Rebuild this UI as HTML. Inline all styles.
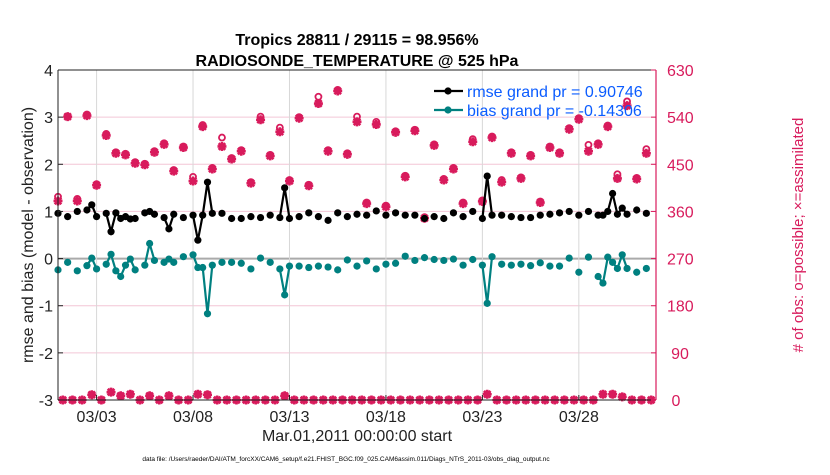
<!DOCTYPE html>
<html><head><meta charset="utf-8"><style>
body{margin:0;background:#fff;}
svg text{font-family:"Liberation Sans",sans-serif;}
</style></head><body>
<svg id="chart" width="830" height="470" xmlns="http://www.w3.org/2000/svg">
<g id="grid"></g><g id="marks"></g><g id="axes"></g>
</svg>
<script>
// rmse/bias series
const times=[0,0.5,1,1.5,1.75,2,2.5,2.75,3,3.25,3.5,3.75,4,4.5,4.75,5,5.5,5.75,6,6.5,7,7.25,7.5,7.75,8,8.5,9,9.5,10,10.5,11,11.5,11.75,12,12.5,13,13.5,14,14.5,15,15.5,16,16.5,17,17.5,18,18.5,19,19.5,20,20.5,21,21.5,22,22.25,22.5,23,23.5,24,24.5,25,25.5,26,26.5,27,27.5,28,28.25,28.5,28.75,29,29.25,29.5,30,30.5];
const rmse=[0.96,0.89,1.00,1.03,1.14,0.89,0.96,0.57,0.97,0.85,0.89,0.84,0.85,0.97,1.00,0.94,0.87,0.63,0.94,0.87,0.92,0.39,0.92,1.62,0.96,0.96,0.85,0.85,0.89,0.87,0.92,0.87,1.50,0.85,0.89,0.97,0.89,0.81,0.97,0.89,0.94,0.92,1.01,0.92,0.97,0.92,0.92,0.85,0.89,0.85,0.97,0.89,1.00,0.85,1.75,0.92,0.92,0.89,0.87,0.87,0.92,0.94,0.97,1.00,0.92,1.00,0.92,0.92,1.00,1.38,0.94,1.07,0.94,1.03,0.96];
const bias=[-0.24,-0.08,-0.26,-0.15,0.01,-0.22,-0.12,0.09,-0.26,-0.38,-0.14,-0.01,-0.24,-0.14,0.32,-0.04,-0.08,-0.01,-0.08,0.04,0.08,-0.19,-0.19,-1.17,-0.14,-0.08,-0.08,-0.10,-0.22,0.01,-0.08,-0.22,-0.77,-0.16,-0.16,-0.19,-0.16,-0.18,-0.24,-0.03,-0.16,-0.05,-0.22,-0.12,-0.10,0.05,-0.04,0.02,-0.02,-0.04,-0.01,-0.14,-0.02,-0.14,-0.95,0.04,-0.12,-0.14,-0.12,-0.15,-0.09,-0.16,-0.16,0.01,-0.29,0.03,-0.38,-0.52,0.03,-0.08,-0.21,0.08,-0.21,-0.29,-0.21];
// obs counts at synoptic 00/12Z times
const countTimes=[0,0.5,1,1.5,2,2.5,3,3.5,4,4.5,5,5.5,6,6.5,7,7.5,8,8.5,9,9.5,10,10.5,11,11.5,12,12.5,13,13.5,14,14.5,15,15.5,16,16.5,17,17.5,18,18.5,19,19.5,20,20.5,21,21.5,22,22.5,23,23.5,24,24.5,25,25.5,26,26.5,27,27.5,28,28.5,29,29.5,30,30.5];
const possible=[388,541,384,545,412,508,473,470,454,451,475,490,439,484,426,525,443,501,462,477,416,541,468,520,420,540,411,579,477,592,471,541,377,531,371,513,428,516,349,488,422,443,377,498,381,503,420,473,425,468,379,484,473,519,538,487,490,524,431,570,424,479];
const assimilated=[380,541,380,543,410,505,471,468,452,449,473,488,437,482,418,522,441,484,460,475,414,535,466,512,418,538,409,566,475,590,469,531,375,526,369,511,426,514,347,486,420,441,375,493,379,501,416,471,423,466,377,482,471,517,536,475,488,522,423,562,422,471];
// obs counts at 06/18Z times
const offTimes=[];for(let k=0;k<62;k++)offTimes.push(0.25+0.5*k);
const offCounts=[0,0,0,10,0,15,8,11,0,8,0,8,0,0,11,10,0,0,0,0,0,0,0,8,0,0,0,0,0,0,0,0,0,0,0,0,0,0,0,0,0,0,0,0,11,0,0,0,0,0,0,0,0,0,0,0,11,11,6,0,0,0];
const yTicks=[-3,-2,-1,0,1,2,3,4];
const rTicks=[0,90,180,270,360,450,540,630];
const xTickDays=[2,7,12,17,22,27];
const xTickLabels=["03/03","03/08","03/13","03/18","03/23","03/28"];

const L=58,R=656,T=70,B=400,PINK="#d81b5c",TEAL="#008080";
const xs=d=>L+(d/31)*(R-L);
const ys=v=>B-(v+3)/7*(B-T);
const yr=n=>B-n/630*(B-T);
const NS="http://www.w3.org/2000/svg";
function mk(parent,tag,attrs,txt){const e=document.createElementNS(NS,tag);for(const k in attrs)e.setAttribute(k,attrs[k]);if(txt!==undefined)e.textContent=txt;document.getElementById(parent).appendChild(e);return e;}

// grid
yTicks.forEach(v=>{const g=mk('grid','line',{x1:L,x2:R,y1:ys(v),y2:ys(v),stroke:v===0?'#aaa':'#f3c6d6','stroke-width':v===0?2:1});

});
xTickDays.forEach(d=>{const g=mk('grid','line',{x1:xs(d),x2:xs(d),y1:T,y2:B,stroke:'#d8d8d8','stroke-width':1});

});

function marker(parent,x,y,kind){
 if(kind==='o'){const c=mk(parent,'circle',{cx:x,cy:y,r:3,fill:'none',stroke:PINK,'stroke-width':1.8});
  
  }
 else{const g=mk(parent,'path',{d:`M${x-4.5},${y}H${x+4.5}M${x},${y-4.5}V${y+4.5}M${x-3.3},${y-3.3}L${x+3.3},${y+3.3}M${x-3.3},${y+3.3}L${x+3.3},${y-3.3}`,stroke:PINK,'stroke-width':2.6,fill:'none'});
  
  
  const c=mk(parent,'circle',{cx:x,cy:y,r:2.6,fill:PINK});
  
  }
}
countTimes.forEach((t,i)=>{marker('marks',xs(t),yr(assimilated[i]),'*');marker('marks',xs(t),yr(possible[i]),'o');});
offTimes.forEach((t,i)=>{if(xs(t)<=R){marker('marks',xs(t),yr(offCounts[i]),'*');marker('marks',xs(t),yr(offCounts[i]),'o');}});

function series(vals,color,name){
 let d='';
 for(let i=0;i<times.length;i++){const c=(i>0&&Math.abs(times[i]-times[i-1]-0.25)<1e-6)?'L':'M';d+=c+xs(times[i]).toFixed(1)+','+ys(vals[i]).toFixed(1);}
 const p=mk('marks','path',{d:d,stroke:color,'stroke-width':2.2,fill:'none'});
 
 
 times.forEach((t,i)=>{const c=mk('marks','circle',{cx:xs(t),cy:ys(vals[i]),r:3.6,fill:color});
 
 });
}
series(rmse,'#000','rmse');
series(bias,TEAL,'bias');

// axes
mk('axes','line',{x1:L,x2:L,y1:T,y2:B,stroke:'#222','stroke-width':1});
mk('axes','line',{x1:L,x2:R,y1:T,y2:T,stroke:'#222','stroke-width':1});
mk('axes','line',{x1:L,x2:R,y1:B,y2:B,stroke:'#222','stroke-width':1});
mk('axes','line',{x1:R,x2:R,y1:T,y2:B,stroke:PINK,'stroke-width':1.2});
yTicks.forEach(v=>{mk('axes','line',{x1:L,x2:L+5,y1:ys(v),y2:ys(v),stroke:'#222'});
 const t=mk('axes','text',{x:L-5,y:ys(v)+6,'text-anchor':'end','font-size':16,fill:'#222'},String(v));
 
 });
rTicks.forEach(v=>{mk('axes','line',{x1:R-5,x2:R,y1:yr(v),y2:yr(v),stroke:PINK});
 const t=mk('axes','text',{x:v<100&&v>0?R+24:(v===0?R+20:R+11),y:yr(v)+6,'text-anchor':v===0||v===90?'middle':'start','font-size':16,fill:PINK},String(v));
 
 });
xTickDays.forEach((d,i)=>{mk('axes','line',{x1:xs(d),x2:xs(d),y1:B,y2:B-5,stroke:'#222'});
 const t=mk('axes','text',{x:xs(d),y:B+22,'text-anchor':'middle','font-size':16,fill:'#222'},xTickLabels[i]);
 
 });
</script>
<svg width="830" height="470" style="position:absolute;left:0;top:0" xmlns="http://www.w3.org/2000/svg">
<text x="357" y="45" text-anchor="middle" font-size="16" font-weight="bold" fill="#000">Tropics 28811 / 29115 = 98.956%</text>
<text x="357" y="66" text-anchor="middle" font-size="16" font-weight="bold" fill="#000">RADIOSONDE_TEMPERATURE @ 525 hPa</text>
<text transform="translate(33,235) rotate(-90)" text-anchor="middle" font-size="16" fill="#222">rmse and bias (model - observation)</text>
<text transform="translate(803,235) rotate(-90)" text-anchor="middle" font-size="15" fill="#d81b5c"># of obs: o=possible; ×=assimilated</text>
<text x="357" y="441" text-anchor="middle" font-size="16" fill="#222">Mar.01,2011 00:00:00 start</text>
<text x="346" y="461" text-anchor="middle" font-size="6.5" fill="#000">data file: /Users/raeder/DAI/ATM_forcXX/CAM6_setup/f.e21.FHIST_BGC.f09_025.CAM6assim.011/Diags_NTrS_2011-03/obs_diag_output.nc</text>
<g>
<line x1="434" x2="463" y1="91" y2="91" stroke="#000" stroke-width="2.2"/><circle cx="448" cy="91" r="3.6" fill="#000"/>
<text x="467" y="97" font-size="16" fill="#0b5cff">rmse grand pr = 0.90746</text>
<line x1="434" x2="463" y1="110" y2="110" stroke="#008080" stroke-width="2.2"/><circle cx="448" cy="110" r="3.6" fill="#008080"/>
<text x="467" y="116" font-size="16" fill="#0b5cff">bias grand pr = -0.14306</text>
</g>
</svg>
</body></html>
